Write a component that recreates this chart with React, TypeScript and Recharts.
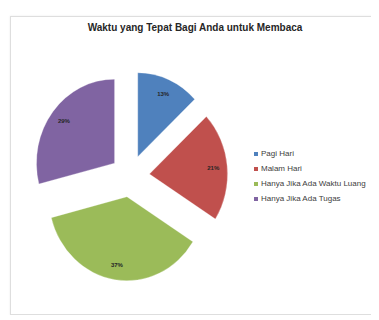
import { Legend, Pie, PieChart, Cell, Sector } from "recharts";

const categories = ["Pagi Hari", "Malam Hari", "Hanya Jika Ada Waktu Luang", "Hanya Jika Ada Tugas"];
const shares = [13, 21, 37, 29];
const colors = ["#4f81bd", "#c0504d", "#9bbb59", "#8064a2"];

const rows = categories.map((name, i) => ({ name, value: shares[i] }));

const RAD = Math.PI / 180;
const EXPLODE = 21;
const SX = 0.93; // the source picture is slightly squeezed sideways

// Excel-style exploded slice: draw the sector pushed out along its mid angle
function ExplodedSlice(props: any) {
  const { cx, cy, midAngle, outerRadius, startAngle, endAngle, index, percent } = props;
  const cos = Math.cos(-midAngle * RAD);
  const sin = Math.sin(-midAngle * RAD);
  const dx = cos * EXPLODE;
  const dy = sin * EXPLODE;
  const lr = outerRadius * 0.82;
  const lx = cx + SX * (dx + cos * lr);
  const ly = cy + dy + sin * lr;
  return (
    <g>
      <g transform={`matrix(${SX} 0 0 1 ${cx * (1 - SX)} 0)`}>
        <Sector
          cx={cx + dx}
          cy={cy + dy}
          innerRadius={0}
          outerRadius={outerRadius}
          startAngle={startAngle}
          endAngle={endAngle}
          fill={colors[index]}
          fillOpacity={1}
          stroke="rgba(255,255,255,0.6)"
          strokeWidth={0.5}
        />
      </g>
      <text x={lx} y={ly} textAnchor="middle" dominantBaseline="central" fontSize={6} fontWeight={700} fill="#262626">
        {Math.round(percent * 100)}%
      </text>
    </g>
  );
}

function LegendBox() {
  return (
    <div style={{ display: "flex", flexDirection: "column", gap: 6 }}>
      {categories.map((name, i) => (
        <div key={name} style={{ display: "flex", alignItems: "center", height: 9, fontSize: 8, color: "#404040", whiteSpace: "nowrap" }}>
          <span style={{ display: "inline-block", width: 4, height: 4, background: colors[i], marginRight: 3 }} />
          {name}
        </div>
      ))}
    </div>
  );
}

export default function App() {
  return (
    <div style={{ paddingLeft: 2, paddingTop: 8 }}>
      <div
        style={{
          position: "relative",
          width: 360,
          height: 297,
          border: "1px solid #dedede",
          boxShadow: "0 0 2px rgba(0,0,0,0.08)",
          background: "#fff",
          fontFamily: "'Liberation Sans', Arial, sans-serif",
        }}
      >
        <div
          style={{
            position: "absolute",
            top: 5,
            left: 0,
            width: 368,
            textAlign: "center",
            fontSize: 10,
            fontWeight: 700,
            color: "#262626",
          }}
        >
          Waktu yang Tepat Bagi Anda untuk Membaca
        </div>
        <PieChart
          width={360}
          height={297}
          margin={{ top: 0, right: 0, bottom: 0, left: 0 }}
          style={{ position: "absolute", top: 0, left: 0 }}
        >
          <Pie
            data={rows}
            dataKey="value"
            nameKey="name"
            cx={119}
            cy={159}
            outerRadius={84}
            startAngle={90}
            endAngle={-270}
            stroke="none"
            labelLine={false}
            label={ExplodedSlice}
            isAnimationActive={false}
          >
            {rows.map((r, i) => (
              <Cell key={r.name} fill={colors[i]} fillOpacity={0} />
            ))}
          </Pie>
          <Legend
            layout="vertical"
            content={<LegendBox />}
            wrapperStyle={{ position: "absolute", left: 243, top: 132, width: 120 }}
          />
        </PieChart>
      </div>
    </div>
  );
}
